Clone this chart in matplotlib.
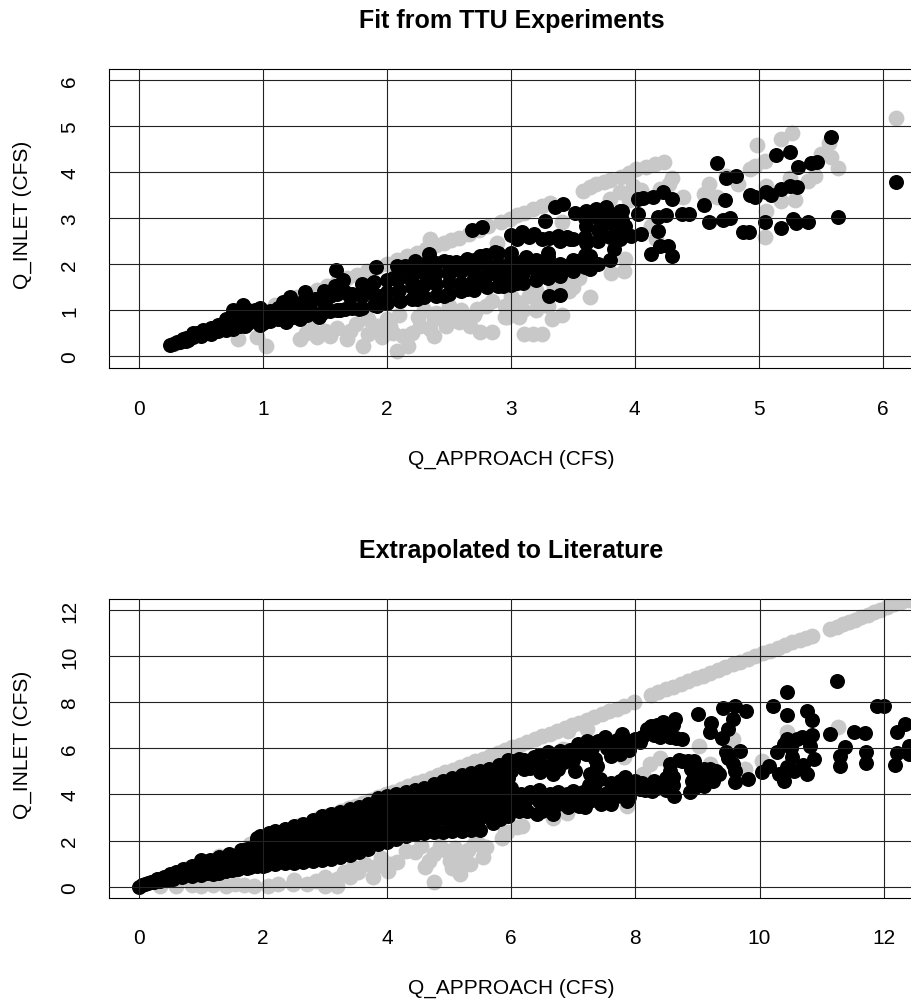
import matplotlib

matplotlib.use("Agg")
import matplotlib.pyplot as plt

WIDTH = 911
HEIGHT = 1004

# values as (q_approach, q_inlet)
ttu_grey = [
    (0.30, 0.28), (0.50, 0.50), (0.70, 0.70), (0.90, 0.92), (1.10, 1.12), (1.20, 1.21),
    (1.28, 1.28), (1.36, 1.37), (1.44, 1.45), (1.52, 1.52), (1.60, 1.61), (1.68, 1.69),
    (1.76, 1.77), (1.84, 1.85), (1.92, 1.93), (2.00, 2.01), (2.08, 2.09), (2.16, 2.17),
    (2.24, 2.25), (2.32, 2.33), (2.35, 2.55), (2.40, 2.41), (2.46, 2.47), (2.52, 2.53),
    (2.58, 2.58), (2.66, 2.66), (2.74, 2.74), (2.82, 2.83), (2.89, 2.47), (2.92, 2.91),
    (2.99, 2.98), (3.05, 3.06), (3.11, 3.12), (3.18, 3.19), (3.25, 3.27), (3.32, 3.34),
    (3.41, 2.92), (3.58, 3.59), (3.64, 3.67), (3.69, 3.74), (3.75, 3.78), (3.80, 3.83),
    (3.89, 3.90), (3.95, 3.98), (4.01, 4.06), (4.09, 4.11), (4.16, 4.17), (4.24, 4.23),
    (4.30, 3.88), (4.28, 3.74), (4.20, 3.63), (3.99, 3.70), (3.88, 3.56), (4.39, 3.46),
    (3.95, 3.40), (4.05, 3.62), (3.80, 3.42),
    (0.80, 0.38), (0.95, 0.41), (1.03, 0.23), (1.30, 0.38), (1.35, 0.50), (1.40, 0.60),
    (1.44, 0.41), (1.50, 0.55), (1.54, 0.45), (1.60, 0.62), (1.68, 0.38), (1.70, 0.55),
    (1.75, 0.70), (1.81, 0.23), (1.85, 0.48), (1.85, 0.80), (1.92, 0.66), (1.96, 0.41),
    (2.00, 0.80), (2.03, 0.66), (2.05, 0.50), (2.08, 0.12), (2.10, 0.90), (2.13, 0.45),
    (2.17, 0.23), (2.20, 0.50), (2.25, 0.85), (2.27, 0.66), (2.30, 1.00), (2.35, 0.60),
    (2.38, 0.45), (2.38, 0.81), (2.40, 0.95), (2.48, 0.66), (2.50, 0.85), (2.50, 1.10),
    (2.58, 0.74), (2.60, 1.00), (2.65, 0.85), (2.67, 0.66), (2.70, 0.90), (2.73, 1.03),
    (2.75, 0.52), (2.80, 1.10), (2.85, 0.52), (2.85, 1.20), (2.95, 1.10), (2.95, 0.85),
    (2.97, 0.85), (3.00, 1.30), (3.05, 0.95), (3.05, 1.17), (3.07, 0.85), (3.10, 1.00),
    (3.11, 0.48), (3.15, 1.30), (3.18, 0.48), (3.20, 1.00), (3.20, 1.45), (3.21, 1.21),
    (3.25, 0.48), (3.30, 1.10), (3.33, 0.81), (3.35, 1.50), (3.41, 0.90), (3.45, 1.60),
    (3.47, 1.42), (3.50, 1.50), (3.55, 1.71), (3.55, 1.90), (3.64, 1.28), (3.81, 1.82),
    (3.91, 1.86), (3.92, 2.11), (4.17, 2.55), (4.13, 2.83),
    (4.56, 3.52), (4.60, 3.74), (4.66, 3.45), (4.74, 3.92), (4.83, 3.74),
    (4.93, 4.06), (4.97, 4.14), (4.99, 4.58), (5.05, 4.24), (5.18, 4.73), (5.27, 4.84),
    (5.57, 4.64), (5.50, 4.40), (5.58, 4.32), (5.64, 4.08), (5.45, 3.92), (5.40, 3.81),
    (5.25, 3.88), (5.18, 3.38), (5.29, 3.40), (5.06, 3.70), (5.06, 3.16), (5.05, 2.60),
    (6.11, 5.18),
]

ttu_black = [
    (0.25, 0.24), (0.28, 0.27), (0.31, 0.30), (0.36, 0.38), (0.40, 0.36), (0.47, 0.51),
    (0.50, 0.45), (0.55, 0.50), (0.60, 0.62), (0.62, 0.55), (0.66, 0.68), (0.70, 0.58),
    (0.73, 0.72), (0.76, 0.60), (0.76, 1.01), (0.80, 0.85), (0.84, 1.11), (0.86, 0.66),
    (0.90, 0.92), (0.98, 1.06), (0.98, 0.68), (1.04, 0.80), (1.10, 0.90), (1.16, 1.17),
    (1.19, 0.74), (1.22, 1.28), (1.25, 0.95), (1.30, 0.81), (1.34, 1.39), (1.38, 1.02),
    (1.45, 0.85), (1.49, 1.42), (1.50, 1.12), (1.58, 1.53), (1.59, 1.88), (1.62, 1.00),
    (1.65, 1.66), (1.70, 1.28), (1.78, 1.03), (1.80, 1.42), (1.88, 1.56), (1.91, 1.95),
    (1.92, 1.10), (1.95, 1.32), (2.05, 1.70), (2.08, 1.97), (2.10, 1.45), (2.11, 1.21),
    (2.15, 1.97), (2.20, 1.62), (2.23, 2.07), (2.24, 1.24), (2.28, 1.45), (2.34, 2.23),
    (2.35, 1.80), (2.40, 1.58), (2.46, 1.32), (2.46, 2.07), (2.50, 1.78), (2.56, 2.05),
    (2.60, 1.60), (2.645, 1.46), (2.645, 2.11), (2.69, 2.75), (2.70, 1.85), (2.75, 2.18),
    (2.77, 2.81), (2.78, 1.65), (2.81, 1.50), (2.85, 1.95), (2.87, 2.26), (2.94, 1.53),
    (2.95, 1.80), (3.00, 2.64), (3.00, 2.10), (3.05, 1.60), (3.07, 1.89), (3.09, 2.69),
    (3.12, 2.15), (3.18, 1.97), (3.19, 2.65), (3.21, 1.71), (3.28, 2.94), (3.30, 2.25),
    (3.31, 2.58), (3.31, 1.89), (3.31, 1.75), (3.31, 1.32), (3.355, 3.25), (3.38, 2.62),
    (3.395, 1.33), (3.42, 3.30), (3.42, 1.97), (3.48, 2.55), (3.52, 3.11), (3.53, 2.08),
    (3.61, 3.16), (3.61, 2.83), (3.61, 2.47), (3.64, 2.18), (3.64, 1.89), (3.69, 3.21),
    (3.72, 2.76), (3.77, 3.25), (3.80, 2.10), (3.83, 2.33), (3.84, 2.83), (3.88, 3.16),
    (3.88, 2.55), (3.92, 2.83), (3.97, 2.62), (4.03, 3.41), (4.03, 3.10), (4.05, 2.65),
    (4.07, 3.43), (4.13, 2.22), (4.15, 3.45), (4.19, 3.02), (4.19, 2.73), (4.20, 2.40),
    (4.23, 3.56), (4.255, 3.07), (4.27, 2.40), (4.30, 3.41), (4.30, 2.17), (4.38, 3.09),
    (4.44, 3.10), (4.56, 3.28), (4.60, 2.92), (4.66, 4.19), (4.71, 2.96), (4.73, 3.40),
    (4.74, 3.88), (4.77, 3.00), (4.82, 3.92), (4.87, 2.70), (4.92, 2.71), (4.93, 3.50),
    (4.97, 3.45), (5.05, 2.91), (5.06, 3.57), (5.10, 3.50), (5.14, 4.37), (5.18, 3.64),
    (5.18, 2.78), (5.25, 4.44), (5.25, 3.69), (5.28, 2.99), (5.30, 2.89), (5.31, 3.67),
    (5.32, 4.12), (5.40, 2.92), (5.42, 4.19), (5.47, 4.22), (5.58, 4.76), (5.64, 3.03),
    (6.11, 3.78),
]

# the solid part of the black band, x below 3.9
ttu_black_core = [
    (0.33, 0.30), (0.38, 0.34), (0.38, 0.40), (0.44, 0.42), (0.44, 0.50), (0.52, 0.50),
    (0.52, 0.58), (0.58, 0.48), (0.58, 0.62), (0.64, 0.55), (0.64, 0.68), (0.70, 0.60),
    (0.70, 0.80), (0.76, 0.62), (0.76, 0.88), (0.82, 0.66), (0.82, 0.95), (0.88, 0.72),
    (0.88, 1.00), (0.94, 0.80), (0.94, 1.00), (1.00, 0.72), (1.00, 0.95), (1.06, 0.76),
    (1.06, 0.98), (1.12, 0.80), (1.12, 1.05), (1.18, 0.78), (1.18, 1.00), (1.24, 0.85),
    (1.24, 1.12), (1.30, 0.88), (1.30, 1.15), (1.36, 0.90), (1.36, 1.20), (1.42, 0.92),
    (1.42, 1.25), (1.48, 0.95), (1.48, 1.28), (1.54, 0.98), (1.54, 1.30), (1.60, 1.00),
    (1.60, 1.35), (1.66, 1.02), (1.66, 1.40), (1.72, 1.05), (1.72, 1.35), (1.80, 1.05),
    (1.80, 1.30), (1.80, 1.58), (1.90, 1.12), (1.90, 1.35), (1.90, 1.62), (2.00, 1.15),
    (2.00, 1.40), (2.00, 1.65), (2.10, 1.22), (2.10, 1.70), (2.10, 1.90), (2.20, 1.25),
    (2.20, 1.50), (2.20, 1.75), (2.20, 1.95), (2.30, 1.28), (2.30, 1.55), (2.30, 1.80),
    (2.30, 2.00), (2.40, 1.30), (2.40, 1.80), (2.40, 2.02), (2.50, 1.35), (2.50, 1.60),
    (2.50, 1.85), (2.50, 2.05), (2.60, 1.42), (2.60, 1.85), (2.60, 2.03), (2.70, 1.45),
    (2.70, 1.70), (2.70, 1.95), (2.70, 2.10), (2.80, 1.75), (2.80, 2.00), (2.80, 2.20),
    (2.90, 1.52), (2.90, 1.75), (2.90, 2.00), (2.90, 2.25), (3.00, 1.55), (3.00, 1.80),
    (3.00, 2.05), (3.00, 2.25), (3.05, 2.55), (3.10, 1.60), (3.10, 1.82), (3.10, 2.08),
    (3.15, 2.60), (3.20, 1.65), (3.20, 1.88), (3.20, 2.10), (3.25, 2.55), (3.30, 1.70),
    (3.30, 1.95), (3.30, 2.15), (3.40, 1.75), (3.40, 2.00), (3.40, 2.50), (3.45, 2.60),
    (3.50, 1.85), (3.50, 2.10), (3.50, 2.55), (3.60, 1.95), (3.60, 2.20), (3.60, 2.60),
    (3.60, 3.00), (3.70, 2.00), (3.70, 2.50), (3.70, 2.75), (3.70, 3.00), (3.80, 2.60),
    (3.80, 2.90), (3.80, 3.10), (3.90, 2.70), (3.90, 2.95), (3.90, 3.15),
]

lit_grey = [
    (0.30, 0.30), (0.80, 0.82), (1.30, 1.33), (1.80, 1.84), (2.30, 2.35), (2.60, 2.66),
    (2.90, 2.96), (3.02, 3.05), (3.14, 3.16), (3.26, 3.28), (3.38, 3.40), (3.50, 3.52),
    (3.62, 3.64), (3.74, 3.76), (3.86, 3.88), (3.98, 4.00), (4.10, 4.12), (4.22, 4.24),
    (4.34, 4.36), (4.46, 4.48), (4.58, 4.60), (4.70, 4.72), (4.82, 4.84), (4.94, 4.96),
    (5.06, 5.08), (5.18, 5.20), (5.30, 5.32), (5.42, 5.44), (5.54, 5.56), (5.66, 5.68),
    (5.78, 5.80), (5.90, 5.92), (6.02, 6.04), (6.14, 6.16), (6.26, 6.28), (6.38, 6.40),
    (6.50, 6.52), (6.62, 6.64), (6.74, 6.76), (6.86, 6.88), (6.98, 7.00), (7.10, 7.12),
    (7.22, 7.24), (7.34, 7.36), (7.46, 7.48), (7.58, 7.60), (7.70, 7.72), (7.82, 7.85),
    (7.97, 8.00), (8.25, 8.32), (8.37, 8.44), (8.49, 8.56), (8.61, 8.68), (8.73, 8.80),
    (8.85, 8.92), (8.97, 9.04), (9.09, 9.16), (9.21, 9.28), (9.33, 9.40), (9.45, 9.52),
    (9.57, 9.64), (9.69, 9.76), (9.81, 9.88), (9.93, 10.00), (10.05, 10.12), (10.17, 10.24),
    (10.29, 10.36), (10.41, 10.48), (10.53, 10.60), (10.65, 10.72), (10.75, 10.80),
    (10.84, 10.89), (11.14, 11.18), (11.24, 11.28), (11.34, 11.38), (11.44, 11.48),
    (11.54, 11.58), (11.64, 11.68), (11.74, 11.80), (11.84, 11.92), (11.94, 12.02),
    (12.06, 12.14), (12.16, 12.26), (12.28, 12.34), (12.40, 12.42),
    (0.35, 0.02), (0.60, 0.04), (0.85, 0.06), (1.00, 0.05), (1.20, 0.08), (1.40, 0.05),
    (1.55, 0.10), (1.70, 0.08), (1.85, 0.04), (2.09, 0.04), (2.25, 0.10), (2.49, 0.12),
    (2.50, 0.30), (2.71, 0.12), (2.85, 0.25), (3.00, 0.04), (3.00, 0.40), (3.19, 0.04),
    (3.20, 0.35), (3.30, 0.65), (3.40, 0.40), (3.45, 0.85), (3.54, 0.62), (3.65, 1.00),
    (3.78, 0.40), (3.80, 0.85), (3.90, 1.25), (4.02, 0.69), (4.05, 1.00), (4.16, 1.06),
    (4.30, 1.55), (4.45, 1.50), (4.55, 1.75), (4.61, 0.84), (4.68, 1.10), (4.75, 1.42),
    (4.76, 0.19), (4.85, 1.75), (4.96, 1.56), (5.02, 1.13), (5.05, 0.80), (5.10, 1.70),
    (5.18, 0.55), (5.20, 1.20), (5.30, 1.60), (5.34, 0.98), (5.40, 1.85), (5.50, 1.80),
    (5.55, 1.27), (5.60, 1.71), (5.85, 2.10), (5.90, 2.36), (5.93, 2.36), (6.09, 2.57),
    (6.17, 2.62), (6.68, 3.00), (6.90, 3.20), (7.86, 3.51), (7.81, 5.61), (8.13, 4.89),
    (8.24, 5.32), (8.40, 5.60), (9.02, 6.12), (9.20, 5.32), (9.58, 6.41), (9.77, 5.10),
    (10.04, 5.47), (10.44, 6.70), (11.26, 6.94), (7.22, 6.84), (6.92, 6.77), (6.84, 5.97),
]

lit_black = [
    (0.00, 0.00), (0.05, 0.06), (0.10, 0.12), (0.15, 0.15), (0.20, 0.22), (0.25, 0.20),
    (0.30, 0.33), (0.35, 0.24), (0.40, 0.43), (0.45, 0.28), (0.50, 0.55), (0.55, 0.33),
    (0.60, 0.65), (0.70, 0.40), (0.72, 0.76), (0.85, 0.45), (0.85, 0.90), (1.00, 0.50),
    (1.00, 1.16), (1.10, 0.80), (1.15, 1.18), (1.20, 0.56), (1.30, 1.28), (1.40, 0.66),
    (1.45, 1.42), (1.50, 1.02), (1.60, 0.75), (1.65, 1.58), (1.70, 1.20), (1.80, 0.84),
    (1.85, 1.76), (1.90, 1.40), (1.95, 2.18), (2.00, 0.90), (2.10, 2.32), (2.10, 1.70),
    (0.95, 0.85), (0.95, 0.65), (1.05, 0.95), (1.05, 0.70), (1.10, 0.60), (1.20, 0.95),
    (1.20, 0.75), (1.30, 1.00), (1.30, 0.78), (1.30, 0.60), (1.40, 1.10), (1.40, 0.85),
    (1.50, 1.25), (1.50, 0.72), (1.60, 1.25), (1.60, 0.95), (1.75, 1.65), (1.75, 1.35),
    (1.75, 1.05), (1.75, 0.82), (1.90, 2.10), (1.90, 1.80), (1.90, 1.20), (1.90, 0.88),
    (2.05, 2.00), (2.05, 1.30), (2.05, 0.92),
    (2.20, 2.40), (2.20, 2.05), (2.20, 1.70), (2.20, 1.35), (2.20, 0.98),
    (2.35, 2.50), (2.35, 2.15), (2.35, 1.80), (2.35, 1.45), (2.35, 1.02),
    (2.50, 2.62), (2.50, 2.25), (2.50, 1.90), (2.50, 1.50), (2.50, 1.04),
    (2.65, 2.72), (2.65, 2.35), (2.65, 2.00), (2.65, 1.60), (2.65, 1.30), (2.65, 1.08),
    (2.80, 2.90), (2.80, 2.50), (2.80, 2.10), (2.80, 1.70), (2.80, 1.40), (2.80, 1.12),
    (2.95, 3.05), (2.95, 2.65), (2.95, 2.25), (2.95, 1.85), (2.95, 1.50), (2.95, 1.16),
    (3.10, 3.15), (3.10, 2.75), (3.10, 2.35), (3.10, 1.95), (3.10, 1.55), (3.10, 1.20),
    (3.25, 3.25), (3.25, 2.85), (3.25, 2.45), (3.25, 2.05), (3.25, 1.65), (3.25, 1.28),
    (3.40, 3.35), (3.40, 2.95), (3.40, 2.55), (3.40, 2.15), (3.40, 1.75), (3.40, 1.38),
    (3.55, 3.45), (3.55, 3.05), (3.55, 2.65), (3.55, 2.25), (3.55, 1.85), (3.55, 1.50),
    (3.70, 3.60), (3.70, 3.20), (3.70, 2.80), (3.70, 2.40), (3.70, 2.00), (3.70, 1.62),
    (3.85, 3.85), (3.85, 3.45), (3.85, 3.05), (3.85, 2.65), (3.85, 2.25), (3.85, 1.85),
    (4.00, 3.92), (4.00, 3.50), (4.00, 3.10), (4.00, 2.70), (4.00, 2.30), (4.00, 1.95),
    (4.15, 4.00), (4.15, 3.60), (4.15, 3.20), (4.15, 2.80), (4.15, 2.40), (4.15, 2.08),
    (4.30, 4.10), (4.30, 3.70), (4.30, 3.30), (4.30, 2.90), (4.30, 2.50), (4.30, 2.18),
    (4.45, 4.18), (4.45, 3.75), (4.45, 3.35), (4.45, 2.95), (4.45, 2.60), (4.45, 2.30),
    (4.60, 4.30), (4.60, 3.90), (4.60, 3.50), (4.60, 3.10), (4.60, 2.70), (4.60, 2.33),
    (4.75, 4.45), (4.75, 4.05), (4.75, 3.65), (4.75, 3.20), (4.75, 2.80), (4.75, 2.36),
    (4.90, 4.60), (4.90, 4.20), (4.90, 3.80), (4.90, 3.40), (4.90, 3.00), (4.90, 2.38),
    (5.05, 4.72), (5.05, 4.30), (5.05, 3.90), (5.05, 3.50), (5.05, 3.10), (5.05, 2.70), (5.05, 2.40),
    (5.20, 4.85), (5.20, 4.40), (5.20, 4.00), (5.20, 3.60), (5.20, 3.20), (5.20, 2.80), (5.20, 2.42),
    (5.35, 4.95), (5.35, 4.50), (5.35, 4.10), (5.35, 3.70), (5.35, 3.30), (5.35, 2.90), (5.35, 2.45),
    (5.50, 5.00), (5.50, 4.60), (5.50, 4.20), (5.50, 3.80), (5.50, 3.40), (5.50, 3.00), (5.50, 2.47),
    (5.65, 5.10), (5.65, 4.70), (5.65, 4.30), (5.65, 3.90), (5.65, 3.50), (5.65, 3.10), (5.70, 2.75),
    (5.80, 5.30), (5.80, 4.85), (5.80, 4.40), (5.80, 4.00), (5.80, 3.60), (5.80, 3.20), (5.82, 2.95),
    (5.95, 5.50), (5.95, 5.10), (5.95, 4.70), (5.93, 4.45), (5.95, 3.80), (5.95, 3.40), (5.95, 3.05),
    (6.00, 5.00), (6.00, 4.30), (6.00, 3.90), (6.05, 5.45), (6.09, 3.73), (6.12, 5.54),
    (6.12, 3.30), (6.15, 4.00), (6.20, 5.50), (6.20, 5.10), (6.20, 3.60), (6.25, 3.30),
    (6.30, 5.15), (6.30, 4.10), (6.36, 5.61), (6.36, 3.88), (6.41, 3.15), (6.45, 5.70),
    (6.45, 4.20), (6.45, 3.70), (6.47, 4.96), (6.50, 5.30), (6.50, 3.30), (6.55, 3.90),
    (6.60, 5.83), (6.60, 5.20), (6.60, 3.50), (6.63, 4.02), (6.68, 4.89), (6.68, 3.15),
    (6.70, 5.50), (6.75, 5.10), (6.75, 4.10), (6.75, 3.60), (6.79, 5.90), (6.85, 5.40),
    (6.85, 3.80), (6.90, 5.76), (6.90, 4.02), (6.92, 3.44), (6.95, 5.95), (7.00, 5.50),
    (7.00, 4.15), (7.00, 3.70), (7.03, 5.03), (7.08, 6.19), (7.10, 5.85), (7.10, 3.50),
    (7.15, 4.10), (7.15, 3.90), (7.19, 3.44), (7.20, 5.75), (7.22, 6.33), (7.25, 4.40),
    (7.27, 4.89), (7.30, 6.00), (7.30, 3.75), (7.35, 5.55), (7.35, 4.20), (7.38, 5.25),
    (7.40, 6.30), (7.43, 4.67), (7.45, 3.90), (7.45, 3.60), (7.51, 6.48), (7.55, 6.00),
    (7.55, 4.05), (7.60, 5.65), (7.60, 4.50), (7.60, 3.59), (7.65, 4.31), (7.68, 5.90),
    (7.70, 6.35), (7.70, 3.95), (7.75, 4.60), (7.76, 5.76), (7.78, 6.62), (7.80, 6.20),
    (7.84, 4.74), (7.85, 4.20), (7.86, 3.73), (7.90, 5.95), (7.90, 3.90), (7.92, 6.26),
    (8.00, 6.40), (8.00, 4.60), (8.00, 4.40), (8.08, 6.26), (8.08, 4.24), (8.10, 6.50),
    (8.10, 4.50), (8.15, 4.20), (8.19, 6.84), (8.25, 6.95), (8.27, 4.16), (8.30, 6.60),
    (8.30, 4.60), (8.35, 7.00), (8.35, 4.30), (8.40, 6.48), (8.45, 7.13), (8.45, 4.53),
    (8.50, 6.80), (8.50, 4.70), (8.50, 4.20), (8.55, 6.50), (8.55, 5.00), (8.56, 5.32),
    (8.60, 7.00), (8.60, 4.40), (8.60, 4.75), (8.62, 3.95), (8.64, 7.27), (8.65, 6.45),
    (8.70, 5.50), (8.75, 6.41), (8.75, 5.47), (8.85, 5.45), (8.88, 4.09), (8.90, 5.10),
    (8.91, 4.60), (8.94, 5.47), (8.95, 4.85), (8.95, 4.30), (9.01, 7.49), (9.05, 4.85),
    (9.10, 5.10), (9.10, 4.38), (9.20, 5.10), (9.21, 6.70), (9.22, 7.09), (9.25, 4.60),
    (9.30, 5.00), (9.34, 4.89), (9.39, 6.45), (9.41, 7.75), (9.46, 5.83), (9.50, 6.84),
    (9.50, 5.60), (9.58, 7.27), (9.58, 5.32), (9.60, 4.53), (9.60, 5.00), (9.61, 7.85),
    (9.69, 5.90), (9.79, 7.61), (9.82, 4.66), (10.04, 4.96), (10.15, 5.25), (10.22, 7.85),
    (10.28, 5.83), (10.31, 4.89), (10.39, 6.19), (10.39, 4.60), (10.44, 8.43), (10.44, 6.41),
    (10.45, 7.46), (10.45, 5.20), (10.50, 6.00), (10.52, 5.61), (10.55, 5.03), (10.60, 6.40),
    (10.68, 6.51), (10.70, 5.30), (10.76, 7.61), (10.76, 4.89), (10.82, 6.12), (10.84, 7.23),
    (10.84, 6.59), (10.87, 5.54), (11.14, 6.62), (11.25, 8.94), (11.29, 5.25), (11.30, 5.68),
    (11.38, 6.04), (11.52, 6.70), (11.70, 6.65), (11.72, 5.86), (11.72, 5.35), (11.89, 7.82),
    (12.00, 7.82), (12.19, 5.29), (12.21, 6.70), (12.21, 5.78), (12.35, 7.06), (12.40, 6.12),
    (12.40, 5.76),
]

ttu_xticks = [0, 1, 2, 3, 4, 5, 6]
ttu_yticks = [0, 1, 2, 3, 4, 5, 6]
lit_xticks = [0, 2, 4, 6, 8, 10, 12]
lit_yticks = [0, 2, 4, 6, 8, 10, 12]


def draw_panel(fig, top, bottom, xlim, ylim, xticks, yticks, grey, black):
    ax = fig.add_axes([108.5 / WIDTH, 1 - bottom / HEIGHT, (WIDTH - 108.5) / WIDTH, (bottom - top) / HEIGHT])
    ax.plot(*zip(*grey), "o", color="#c8c8c8", ms=11.4, mew=0, zorder=1)
    ax.plot(*zip(*black), "o", color="black", ms=10.8, mew=0, zorder=2)
    for x in xticks:
        ax.axvline(x, color="#222222", lw=0.8, zorder=3)
    for y in yticks:
        ax.axhline(y, color="#222222", lw=0.8, zorder=3)
    ax.set_xlim(*xlim)
    ax.set_ylim(*ylim)
    ax.set_xticks(xticks)
    ax.set_yticks(yticks)
    ax.tick_params(length=0, labelsize=15)
    ax.tick_params(axis="x", pad=22)
    ax.tick_params(axis="y", pad=21)
    plt.setp(ax.get_yticklabels(), rotation=90, va="center")
    ax.spines["right"].set_visible(False)
    for spine in ax.spines.values():
        spine.set_linewidth(0.8)
    return ax


def add_labels(fig, title, title_y, xlabel_y, ylabel_y):
    fig.text(511.5 / WIDTH, 1 - title_y / HEIGHT, title, ha="center", va="baseline",
             fontsize=18, fontweight="bold")
    fig.text(511 / WIDTH, 1 - xlabel_y / HEIGHT, "Q_APPROACH (CFS)", ha="center", va="baseline", fontsize=15)
    fig.text(22 / WIDTH, 1 - ylabel_y / HEIGHT, "Q_INLET (CFS)", ha="center", va="center",
             rotation=90, fontsize=15)


plt.rcParams["font.family"] = ["Liberation Sans", "DejaVu Sans"]

fig = plt.figure(figsize=(WIDTH / 100, HEIGHT / 100), dpi=100)
draw_panel(fig, 70, 369, (-0.244, 6.228), (-0.254, 6.24), ttu_xticks, ttu_yticks, ttu_grey, ttu_black + ttu_black_core)
draw_panel(fig, 600, 898.7, (-0.487, 12.44), (-0.477, 12.48), lit_xticks, lit_yticks, lit_grey, lit_black)
add_labels(fig, "Fit from TTU Experiments", 28, 465, 215)
add_labels(fig, "Extrapolated to Literature", 558, 994, 745)

fig.savefig("out.png", dpi=100)
